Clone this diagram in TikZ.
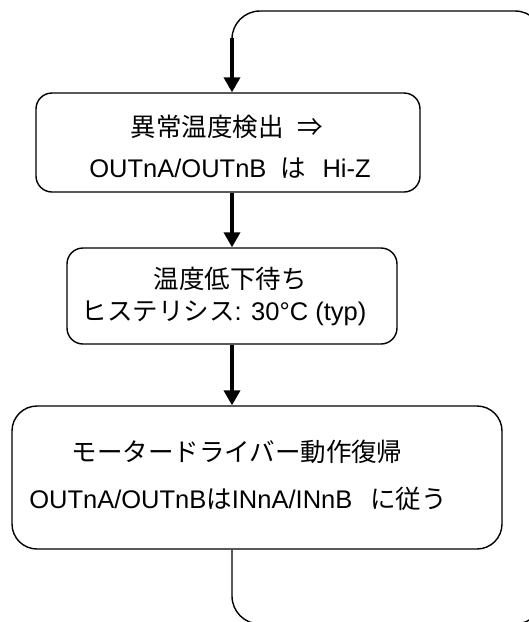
\documentclass[tikz,border=0pt]{standalone}
\usepackage{fontspec}
\setmainfont{Liberation Sans}
\newfontfamily\cjk{Noto Sans CJK JP}
\usetikzlibrary{arrows.meta}
\begin{document}
\begin{tikzpicture}[x=1pt,y=-1pt,
  box/.style={draw, line width=1.4pt, rounded corners=#1, inner sep=0pt},
  txt/.style={anchor=base, inner sep=0pt, font=\fontsize{25.5pt}{30pt}\selectfont},
  arr/.style={line width=3.5pt, -{Triangle[width=16pt,length=15pt]}},
  loopline/.style={line width=1.4pt, rounded corners=28pt}]
\useasboundingbox (0,0) rectangle (529,622);
\clip (0,0) rectangle (529,622);
\fill[white] (0,0) rectangle (529,622);
% boxes
\node[box=16pt, minimum width=384pt, minimum height=99pt] (b1) at (228,142.5) {};
\node[box=16pt, minimum width=330pt, minimum height=96pt] (b2) at (232,296) {};
\node[box=25pt, minimum width=490pt, minimum height=143pt] (b3) at (257,477.5) {};
% texts
\node[txt] (t1a) at (227,136) {{\cjk 異常温度検出\hspace{0.55em}⇒}};
\node[txt] (t1b) at (230,177) {OUTnA/OUTnB\hspace{0.55em}{\cjk は}\hspace{0.65em}Hi-Z};
\node[txt] (t2a) at (230,288) {{\cjk 温度低下待ち}};
\node[txt] (t2b) at (224,320) {{\cjk ヒステリシス}: 30°C (typ)};
\node[txt] (t3a) at (237,461) {{\cjk モータードライバー動作復帰}};
\node[txt] (t3b) at (238,508) {OUTnA/OUTnB{\cjk は}INnA/INnB\hspace{0.7em}{\cjk に従う}};
% loop coordinates
\coordinate (c1) at (232,624);
\coordinate (c2) at (543,624);
\coordinate (c3) at (543,11);
\coordinate (c4) at (232,11);
\coordinate (c5) at (232,38);
% connectors
\draw[loopline] (b3.south -| c1) -- (c1) -- (c2) -- (c3) -- (c4) -- (c5);
\draw[arr] (c5) -- (b1.north -| c5);
\draw[arr] (b1.south -| c5) -- (b2.north -| c5);
\draw[arr] (b2.south -| c5) -- (b3.north -| c5);
\end{tikzpicture}
\end{document}
